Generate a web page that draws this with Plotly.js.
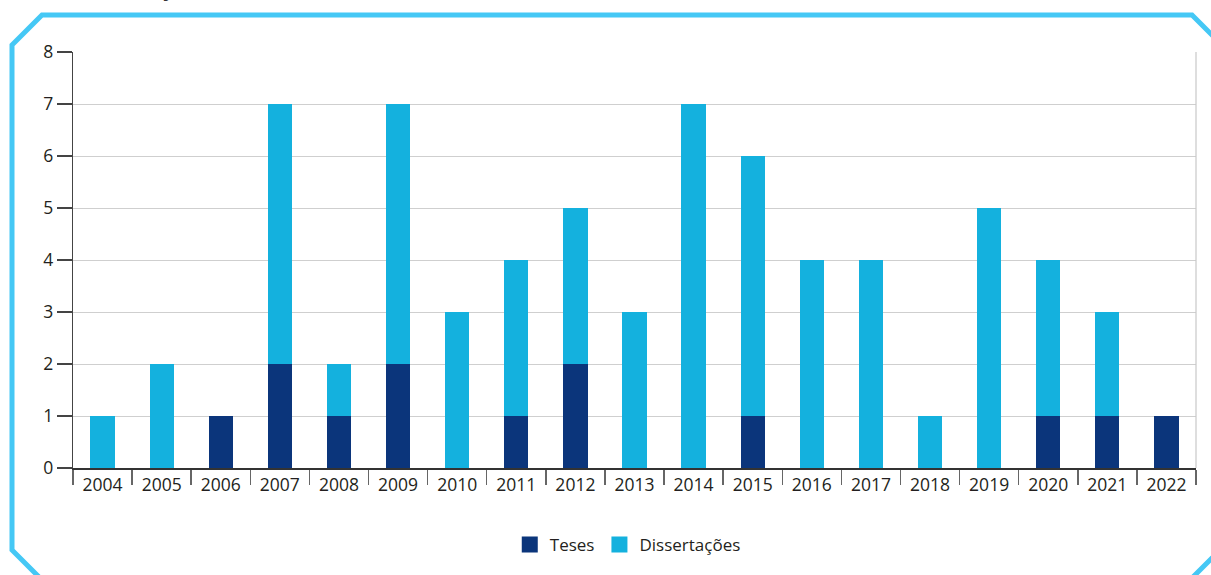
<!DOCTYPE html>
<html>
<head>
<meta charset="utf-8">
<script src="https://cdn.plot.ly/plotly-3.0.1.min.js"></script>
<style>
html,body{margin:0;padding:0;background:#fff;overflow:hidden;}
#chart{width:1211px;height:575px;}
</style>
</head>
<body>
<div id="chart"></div>
<script>
const years = ["2004","2005","2006","2007","2008","2009","2010","2011","2012","2013","2014","2015","2016","2017","2018","2019","2020","2021","2022"];
const teses = [0,0,1,2,1,2,0,1,2,0,0,1,0,0,0,0,1,1,1];
const dissertacoes = [1,2,0,5,1,5,3,3,3,3,7,5,4,4,1,5,3,2,0];
const yTicks = [0,1,2,3,4,5,6,7,8];
const seriesNames = ["Teses","Dissertações"];
const seriesColors = ["#0b357b","#14b1de"];

const W = 1211, H = 575;
const L = 73, R = 1196, T = 52, B = 468;
const px = x => (x - L) / (R - L);
const py = y => (B - y) / (B - T);

const frame = [[12,45],[42,15],[1192,15],[1230,53],[1230,540],[1192,578],[40,578],[12,550]];
let path = frame.map((p,i)=> (i===0?'M':'L') + px(p[0]) + ',' + py(p[1])).join(' ') + ' Z';

const font = "'Open Sans', 'Noto Sans', sans-serif";

const traces = [
  {type:'bar', name:seriesNames[0], x:years, y:teses, marker:{color:seriesColors[0]}, hoverinfo:'skip', showlegend:false},
  {type:'bar', name:seriesNames[1], x:years, y:dissertacoes, marker:{color:seriesColors[1]}, hoverinfo:'skip', showlegend:false},
  {type:'scatter', mode:'markers', name:seriesNames[0], x:[null], y:[null], marker:{symbol:'square', size:16, color:seriesColors[0]}},
  {type:'scatter', mode:'markers', name:seriesNames[1], x:[null], y:[null], marker:{symbol:'square', size:16, color:seriesColors[1]}}
];

const layout = {
  width:W, height:H,
  margin:{l:L, r:W-R, t:T, b:H-B},
  barmode:'stack',
  bargap:0.59,
  paper_bgcolor:'#fff', plot_bgcolor:'#fff',
  font:{family:font, size:17, color:'#231f20'},
  showlegend:true,
  legend:{orientation:'h', x:0.494, xanchor:'center', y:py(545), yanchor:'middle', font:{size:17}, itemwidth:30, traceorder:'normal'},
  xaxis:{type:'category', tickson:'boundaries', ticks:'outside', ticklen:15, tickcolor:'#666', tickwidth:1.5,
         showline:true, linecolor:'#333', linewidth:1.5, showgrid:false, tickfont:{size:17.5}, fixedrange:true},
  yaxis:{range:[0,8], tickvals:yTicks, ticks:'outside', ticklen:15, tickcolor:'#444', tickwidth:1.2,
         showline:true, linecolor:'#444', linewidth:1.2, gridcolor:'#cfcfcf', gridwidth:1, zeroline:false,
         tickfont:{size:17.5}, fixedrange:true},
  shapes:[
    {type:'line', xref:'paper', yref:'paper', x0:1, x1:1, y0:0, y1:1, line:{color:'#c8c8c8', width:1.2}},
    {type:'path', xref:'paper', yref:'paper', path:path, line:{color:'#45c8f5', width:5}, fillcolor:'rgba(0,0,0,0)', layer:'above'}
  ],
  annotations:[
    {xref:'paper', yref:'paper', x:px(92), y:py(4), xanchor:'left', yanchor:'bottom', showarrow:false,
     text:'<b>Produção (2004-2022)</b>', font:{size:22, color:'#333', family:font}}
  ]
};

Plotly.newPlot('chart', traces, layout, {displayModeBar:false, staticPlot:true});
</script>
</body>
</html>
